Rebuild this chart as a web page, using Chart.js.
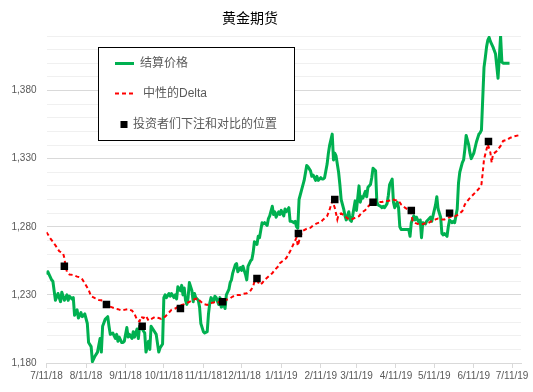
<html>
    <head>
        <meta name="viewport" content="width=device-width, initial-scale=1.0">
        <meta http-equiv="content-type" content="text/html; charset=UTF-8">
        <script src="https://cdn.jsdelivr.net/npm/chart.js"></script>
        <title>黄金期货</title>
        <style>
            body { margin: 0; background: #fff; }
        </style>
    </head>
    <body>
        <div style="position: relative; width: 533px; height: 392px">
            <canvas id="gold"></canvas>
        </div>

        <script>
            // x values are days counted from 7/11/18
            const priceDays = [0, 1, 4, 5, 7, 9, 11, 12, 14, 16, 17, 18, 20, 21, 22, 24, 25, 27, 28, 30,
                32, 33, 35, 36, 38, 40, 41, 42, 43, 44, 46, 48, 49, 50, 52, 54, 55, 56, 57, 59,
                60, 61, 63, 64, 65, 67, 68, 69, 71, 72, 73, 75, 77, 78, 80, 81, 82, 84, 86, 88,
                89, 91, 92, 93, 94, 96, 97, 98, 100, 101, 102, 103, 105, 106, 107, 108, 109, 110, 111, 112,
                114, 115, 116, 117, 119, 120, 121, 123, 124, 126, 127, 128, 129, 131, 132, 133, 135, 136, 137, 139,
                140, 141, 143, 144, 145, 146, 148, 149, 150, 152, 153, 154, 156, 157, 158, 160, 161, 162, 163, 165,
                166, 167, 169, 170, 171, 173, 174, 175, 177, 178, 179, 180, 182, 183, 184, 186, 187, 188, 190, 191,
                192, 194, 195, 196, 197, 198, 200, 202, 204, 205, 207, 208, 209, 211, 212, 213, 215, 216, 217, 218,
                220, 221, 222, 224, 225, 226, 227, 229, 230, 231, 233, 234, 235, 237, 238, 239, 240, 242, 243, 245,
                246, 247, 248, 250, 251, 252, 254, 255, 256, 258, 259, 260, 262, 263, 264, 265, 267, 268, 269, 271,
                272, 273, 275, 276, 277, 278, 281, 284, 285, 286, 288, 289, 290, 292, 293, 294, 295, 297, 298, 299,
                301, 302, 303, 305, 306, 307, 309, 310, 311, 312, 314, 315, 316, 318, 319, 320, 322, 323, 324, 326,
                327, 328, 329, 331, 332, 333, 335, 336, 337, 339, 340, 341, 343, 344, 345, 346, 347, 348, 349, 350,
                352, 353, 354, 356, 357, 358, 361, 363];
            const priceVals = [1245, 1247, 1241, 1240, 1226, 1231, 1225, 1232, 1226, 1230, 1226, 1229, 1227, 1228, 1215, 1219, 1213, 1217, 1214, 1216,
                1209, 1195, 1192, 1181, 1185, 1188, 1193, 1198, 1188, 1207, 1212, 1214, 1207, 1201, 1202, 1198, 1201, 1196, 1199, 1195,
                1195, 1196, 1206, 1199, 1201, 1198, 1203, 1199, 1205, 1198, 1207, 1205, 1202, 1188, 1196, 1190, 1207, 1204, 1201, 1188,
                1191, 1194, 1228, 1230, 1228, 1231, 1229, 1231, 1228, 1230, 1227, 1236, 1233, 1237, 1230, 1235, 1226, 1223, 1228, 1239,
                1233, 1225, 1231, 1228, 1226, 1221, 1209, 1203, 1202, 1203, 1216, 1224, 1228, 1225, 1229, 1228, 1223, 1228, 1221, 1223,
                1220, 1230, 1234, 1239, 1241, 1246, 1252, 1253, 1247, 1250, 1248, 1251, 1245, 1241, 1251, 1255, 1256, 1261, 1269, 1267,
                1273, 1272, 1283, 1282, 1283, 1281, 1286, 1288, 1295, 1289, 1291, 1287, 1291, 1289, 1292, 1288, 1293, 1291, 1294, 1284,
                1284, 1283, 1284, 1280, 1279, 1300, 1307, 1314, 1325, 1324, 1321, 1317, 1318, 1314, 1317, 1314, 1316, 1315, 1315, 1316,
                1326, 1334, 1340, 1348, 1329, 1334, 1332, 1320, 1311, 1300, 1293, 1288, 1285, 1291, 1285, 1284, 1288, 1299, 1292, 1310,
                1298, 1302, 1301, 1306, 1302, 1309, 1311, 1316, 1323, 1321, 1298, 1296, 1295, 1294, 1295, 1294, 1297, 1303, 1311, 1315,
                1298, 1294, 1298, 1294, 1280, 1278, 1278, 1278, 1273, 1283, 1288, 1285, 1287, 1283, 1285, 1272, 1283, 1282, 1284, 1285,
                1287, 1284, 1288, 1296, 1302, 1293, 1287, 1275, 1274, 1275, 1273, 1280, 1285, 1283, 1284, 1283, 1293, 1312, 1320, 1327,
                1329, 1337, 1347, 1340, 1334, 1330, 1334, 1338, 1342, 1348, 1349, 1351, 1397, 1404, 1412, 1417, 1419, 1416, 1414, 1412,
                1407, 1398, 1389, 1420, 1401, 1400, 1400, 1400];

            const deltaDays = [0, 3, 5, 8, 10, 13, 14, 15, 16, 18, 21, 24, 26, 28, 30, 33, 35, 38, 41, 43,
                46, 48, 51, 54, 56, 59, 61, 64, 67, 69, 71, 73, 74, 76, 78, 80, 82, 85, 88, 90,
                93, 96, 98, 101, 103, 106, 109, 111, 114, 116, 119, 120, 123, 126, 128, 131, 133, 136, 139, 141,
                144, 146, 149, 152, 154, 157, 160, 162, 163, 165, 167, 169, 171, 174, 177, 179, 182, 183, 188, 191,
                194, 196, 197, 199, 201, 204, 207, 209, 212, 215, 217, 220, 222, 224, 226, 228, 229, 231, 234, 237,
                239, 242, 245, 247, 250, 252, 255, 258, 260, 263, 265, 268, 271, 273, 276, 278, 281, 284, 286, 287,
                289, 292, 294, 297, 299, 302, 305, 307, 310, 312, 315, 318, 320, 323, 326, 328, 331, 333, 336, 339,
                341, 342, 343, 345, 346, 348, 349, 350, 353, 356, 358, 361, 363, 366, 372];
            const deltaVals = [1276, 1271.5, 1269, 1265, 1262, 1260.5, 1257, 1251, 1247, 1245, 1244.6, 1243.4, 1243, 1241.5, 1238.5, 1233.7, 1229, 1227.6, 1226.3, 1226,
                1224, 1222, 1221, 1220, 1219.5, 1218.5, 1219, 1219.5, 1218.5, 1216, 1211.7, 1210.5, 1214, 1213, 1214.6, 1211.2, 1212.2, 1213.7, 1213, 1212.4,
                1214, 1217, 1219, 1220, 1221.4, 1222.6, 1223.4, 1224.4, 1225.8, 1226.8, 1227.5, 1225.8, 1223.4, 1222.6, 1223.9, 1224.4, 1225.1, 1224.4, 1225.1, 1226.3,
                1227.5, 1228.8, 1230, 1230, 1230.7, 1231.2, 1233.2, 1236.1, 1239.8, 1241, 1237.4, 1238.6, 1241, 1243.5, 1245.9, 1248.4, 1251.3, 1253.3, 1257, 1262,
                1268, 1272, 1266, 1273, 1277, 1278.5, 1279.3, 1281, 1282.5, 1283.4, 1285.4, 1287.8, 1292.7, 1298.9, 1294, 1285.4, 1289, 1289.8, 1287.8, 1285.4,
                1285.4, 1286.6, 1287.8, 1290.3, 1292.3, 1294.7, 1297.6, 1298.9, 1298.1, 1298.1, 1298.9, 1298.9, 1300.1, 1299.6, 1299.1, 1296.4, 1294, 1292.3, 1290.3, 1284.2,
                1282.9, 1281.7, 1281.7, 1282.5, 1282.5, 1284.2, 1285.4, 1286.1, 1285.4, 1285.4, 1286.6, 1287.8, 1287.4, 1289.1, 1291.5, 1296.4, 1300.1, 1302.1, 1305, 1307.9,
                1311.1, 1319.7, 1329.5, 1336.9, 1340.5, 1334.4, 1327.1, 1333.2, 1335.6, 1339.3, 1343, 1343.7, 1345, 1346.2, 1347.5];

            const betDays = [14, 47, 75, 105, 138, 165, 197.5, 226, 256, 286, 316, 346.5];
            const betVals = [1251, 1223, 1207, 1220, 1225, 1242, 1275, 1300, 1298, 1292, 1290, 1342.5];

            const monthTicks = [0, 31, 62, 92, 123, 153, 184, 215, 243, 274, 304, 335, 365];
            const labelNames = ['结算价格', '中性的Delta', '投资者们下注和对比的位置'];
            const chartTitle = '黄金期货';

            const green = '#00B050';
            const red = '#FF0000';
            const font = "'Liberation Sans', 'Noto Sans CJK SC', sans-serif";

            function toPoints(xs, ys) {
                return xs.map((x, i) => ({ x: x, y: ys[i] }));
            }

            function dayLabel(d) {
                const dt = new Date(2018, 6, 11 + d);
                return (dt.getMonth() + 1) + '/' + dt.getDate() + '/' + String(dt.getFullYear()).slice(2);
            }

            // title and the boxed legend that sits inside the plot
            const overlay = {
                id: 'overlay',
                afterDraw(chart) {
                    const c = chart.ctx;
                    c.save();
                    c.fillStyle = '#000';
                    c.font = "14px 'Noto Sans CJK SC', sans-serif";
                    c.textAlign = 'center';
                    c.textBaseline = 'middle';
                    c.fillText(chartTitle, 250, 18);

                    c.fillStyle = '#fff';
                    c.fillRect(98, 47, 196, 93);
                    c.strokeStyle = '#000';
                    c.lineWidth = 1;
                    c.strokeRect(98.5, 47.5, 196, 93);

                    c.lineCap = 'butt';
                    c.strokeStyle = green;
                    c.lineWidth = 3;
                    c.beginPath(); c.moveTo(115, 63.5); c.lineTo(134, 63.5); c.stroke();

                    c.strokeStyle = red;
                    c.lineWidth = 2;
                    c.setLineDash([4, 3]);
                    c.beginPath(); c.moveTo(115, 93.5); c.lineTo(135, 93.5); c.stroke();
                    c.setLineDash([]);

                    c.fillStyle = '#000';
                    c.fillRect(120.5, 121, 7, 7);

                    c.fillStyle = '#595959';
                    c.font = "12px " + font;
                    c.textAlign = 'left';
                    c.fillText(labelNames[0], 140, 64);
                    c.fillText(labelNames[1], 143, 94);
                    c.fillText(labelNames[2], 133, 125);
                    c.restore();
                }
            };

            var ctx = document.getElementById('gold');

            var chart = new Chart(ctx, {
                type: 'line',
                data: {
                    datasets: [{
                        label: labelNames[0],
                        data: toPoints(priceDays, priceVals),
                        borderColor: green,
                        backgroundColor: green,
                        borderWidth: 3,
                        pointRadius: 0,
                        borderJoinStyle: 'round',
                        order: 3
                    }, {
                        label: labelNames[1],
                        data: toPoints(deltaDays, deltaVals),
                        borderColor: red,
                        backgroundColor: red,
                        borderWidth: 2,
                        borderDash: [4, 3],
                        pointRadius: 0,
                        order: 2
                    }, {
                        label: labelNames[2],
                        data: toPoints(betDays, betVals),
                        showLine: false,
                        pointStyle: 'rect',
                        pointRadius: 5.3,
                        pointBorderWidth: 0,
                        backgroundColor: '#000',
                        borderColor: '#000',
                        order: 1
                    }]
                },
                options: {
                    animation: false,
                    responsive: true,
                    maintainAspectRatio: false,
                    layout: { padding: { top: 36, right: 12, left: 0, bottom: 0 } },
                    plugins: {
                        legend: { display: false },
                        title: { display: false },
                        tooltip: { enabled: false }
                    },
                    elements: { line: { tension: 0 } },
                    scales: {
                        x: {
                            type: 'linear',
                            min: 0,
                            max: 372,
                            afterBuildTicks: (s) => { s.ticks = monthTicks.map(v => ({ value: v })); },
                            afterFit: (s) => { s.height = 29; },
                            grid: {
                                drawOnChartArea: false,
                                color: '#D9D9D9',
                                tickLength: 5
                            },
                            border: { display: true, color: '#D9D9D9' },
                            ticks: {
                                autoSkip: false,
                                maxRotation: 0,
                                minRotation: 0,
                                padding: 2,
                                color: '#595959',
                                font: { family: font, size: 10 },
                                callback: (v) => dayLabel(v)
                            }
                        },
                        y: {
                            min: 1180,
                            max: 1420,
                            afterFit: (s) => { s.width = 46.5; },
                            grid: {
                                drawTicks: false,
                                color: (c) => ((c.tick.value - 1180) % 50 === 0 ? '#D9D9D9' : '#F0F0F0')
                            },
                            border: { display: false },
                            ticks: {
                                stepSize: 10,
                                autoSkip: false,
                                padding: 10,
                                color: '#595959',
                                font: { family: font, size: 10 },
                                callback: (v) => ((v - 1180) % 50 === 0 ? v.toLocaleString('en-US') : '')
                            }
                        }
                    }
                },
                plugins: [overlay]
            });
        </script>
    </body>
</html>
